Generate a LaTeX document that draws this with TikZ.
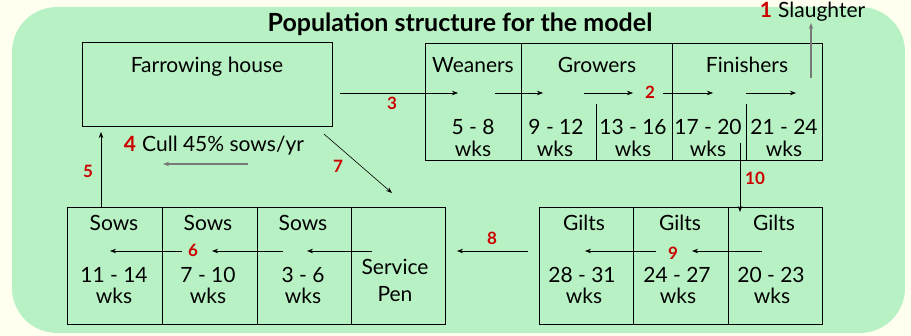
\documentclass[tikz,border=0pt]{standalone}
\usepackage{fontspec}
\setmainfont{Lato}
\usetikzlibrary{arrows.meta}

\definecolor{bgcream}{RGB}{255,255,240}
\definecolor{panelgreen}{RGB}{184,242,196}
\definecolor{numred}{RGB}{204,0,0}
\definecolor{arrgray}{RGB}{120,120,120}

\tikzset{
  cell/.style={draw, line width=1pt, inner sep=0pt, minimum height=117pt},
  lbl/.style={anchor=base, inner sep=0pt, font=\fontsize{21}{25}\selectfont},
  num/.style={anchor=base, inner sep=0pt, text=numred, font=\fontsize{17}{20}\selectfont\bfseries},
  bignum/.style={num, font=\fontsize{21}{25}\selectfont\bfseries},
  flow/.style={line width=0.6pt, -{Stealth[length=6pt,width=4.5pt]}},
  grayflow/.style={flow, draw=arrgray, line width=1.3pt},
}

\begin{document}
\begin{tikzpicture}[x=1pt,y=1pt,yscale=-1]
\useasboundingbox[fill=bgcream] (0,0) rectangle (911,336);
\fill[panelgreen, rounded corners=45pt] (12,7) rectangle (905,333);

% Title
\node[anchor=base, inner sep=0pt, font=\fontsize{25}{30}\selectfont\bfseries] (title) at (460,32) {Population structure for the model};

% Farrowing house
\node[cell, minimum width=250pt, minimum height=84pt] (farrow) at (207,85) {};
\node[lbl] (farrowtxt) at (207,73) {Farrowing house};

% Weaners, growers, finishers
\node[cell, minimum width=96pt] (wean) at (473,102.5) {};
\node[cell, minimum width=151pt] (grow) at (596.5,102.5) {};
\node[cell, minimum width=150pt] (fin) at (747,102.5) {};
\coordinate (gsplit) at (596,104);
\coordinate (fsplit) at (746,104);
\draw[line width=0.6pt] (gsplit) -- (gsplit |- grow.south);
\draw[line width=0.6pt] (fsplit) -- (fsplit |- fin.south);

\node[lbl] (weantxt) at (473,73) {Weaners};
\node[lbl] (growtxt) at (597,73) {Growers};
\node[lbl] (fintxt) at (747,73) {Finishers};
\node[lbl] (wk5) at (473,135) {5 - 8};
\node[lbl] (wk9) at (556,135) {9 - 12};
\node[lbl] (wk13) at (633,135) {13 - 16};
\node[lbl] (wk17) at (708,135) {17 - 20};
\node[lbl] (wk21) at (784,135) {21 - 24};
\node[lbl] (wkA) at (473,157) {wks};
\node[lbl] (wkB) at (555,157) {wks};
\node[lbl] (wkC) at (633,157) {wks};
\node[lbl] (wkD) at (708,157) {wks};
\node[lbl] (wkE) at (784,157) {wks};

% Gilts
\node[cell, minimum width=94pt] (gilt3) at (586,266.5) {};
\node[cell, minimum width=95pt] (gilt2) at (680.5,266.5) {};
\node[cell, minimum width=94pt] (gilt1) at (775,266.5) {};
\node[lbl] (gilt3txt) at (584,231) {Gilts};
\node[lbl] (gilt2txt) at (680,231) {Gilts};
\node[lbl] (gilt1txt) at (774,231) {Gilts};
\node[lbl] (wk28) at (582,283) {28 - 31};
\node[lbl] (wk24) at (677,283) {24 - 27};
\node[lbl] (wk20) at (771,283) {20 - 23};
\node[lbl] (wkF) at (584,304) {wks};
\node[lbl] (wkG) at (678,304) {wks};
\node[lbl] (wkH) at (772,304) {wks};

% Sows and service pen
\node[cell, minimum width=95pt] (sow3) at (114.5,266.5) {};
\node[cell, minimum width=95pt] (sow2) at (209.5,266.5) {};
\node[cell, minimum width=94pt] (sow1) at (304,266.5) {};
\node[cell, minimum width=94pt] (service) at (398,266.5) {};
\node[lbl] (sow3txt) at (114,231) {Sows};
\node[lbl] (sow2txt) at (208,231) {Sows};
\node[lbl] (sow1txt) at (303,231) {Sows};
\node[lbl] (wk11) at (114,283) {11 - 14};
\node[lbl] (wk7) at (208,283) {7 - 10};
\node[lbl] (wk3) at (303,283) {3 - 6};
\node[lbl] (wkI) at (114,304) {wks};
\node[lbl] (wkJ) at (208,304) {wks};
\node[lbl] (wkK) at (303,304) {wks};
\node[lbl] (servtxt) at (395,275) {Service};
\node[lbl] (pentxt) at (395,302) {Pen};

% Side texts
\node[lbl, anchor=base west] (slaughter) at (778,18) {Slaughter};
\node[bignum] (n1) at (766,18) {1};
\node[lbl, anchor=base west] (cull) at (142,152) {Cull 45\% sows/yr};
\node[bignum] (n4) at (130,152) {4};

% Red step numbers
\node[num] (n2) at (650,99) {2};
\node[num] (n3) at (392,110) {3};
\node[num] (n5) at (88,178) {5};
\node[num] (n6) at (193,257) {6};
\node[num] (n7) at (338,173) {7};
\node[num] (n8) at (492,245) {8};
\node[num] (n9) at (673,260) {9};
\node[num] (n10) at (755,185) {10};

% Arrow ends
\coordinate (a3s) at (340,93);  \coordinate (a3e) at (458,93);
\coordinate (awgs) at (495,93); \coordinate (awge) at (543,93);
\coordinate (a2s) at (584,93);  \coordinate (a2e) at (633,93);
\coordinate (agfs) at (663,93); \coordinate (agfe) at (713,93);
\coordinate (affs) at (746,93); \coordinate (affe) at (796,93);
\coordinate (a1s) at (811,78);  \coordinate (a1e) at (811,23);
\coordinate (a10s) at (740,143); \coordinate (a10e) at (740,212);
\coordinate (a9s) at (762,251); \coordinate (a9e) at (692,251);
\coordinate (aggs) at (656,251); \coordinate (agge) at (585,251);
\coordinate (a8s) at (528,251); \coordinate (a8e) at (457,251);
\coordinate (asps) at (372,251); \coordinate (aspe) at (307,251);
\coordinate (a6s) at (283,251); \coordinate (a6e) at (212,251);
\coordinate (asss) at (182,251); \coordinate (asse) at (110,251);
\coordinate (a5s) at (101,207); \coordinate (a5e) at (101,132);
\coordinate (a4s) at (248,164); \coordinate (a4e) at (163,164);
\coordinate (a7s) at (324,134); \coordinate (a7e) at (392,193);

% Connections
\draw[flow] (a3s) -- (a3e);
\draw[flow] (awgs) -- (awge);
\draw[flow] (a2s) -- (a2e);
\draw[flow] (agfs) -- (agfe);
\draw[flow] (affs) -- (affe);
\draw[grayflow] (a1s) -- (a1e);
\draw[flow] (a10s) -- (a10e);
\draw[flow] (a9s) -- (a9e);
\draw[flow] (aggs) -- (agge);
\draw[flow] (a8s) -- (a8e);
\draw[flow] (asps) -- (aspe);
\draw[flow] (a6s) -- (a6e);
\draw[flow] (asss) -- (asse);
\draw[flow] (a5s) -- (a5e);
\draw[grayflow] (a4s) -- (a4e);
\draw[flow] (a7s) -- (a7e);

\end{tikzpicture}
\end{document}
